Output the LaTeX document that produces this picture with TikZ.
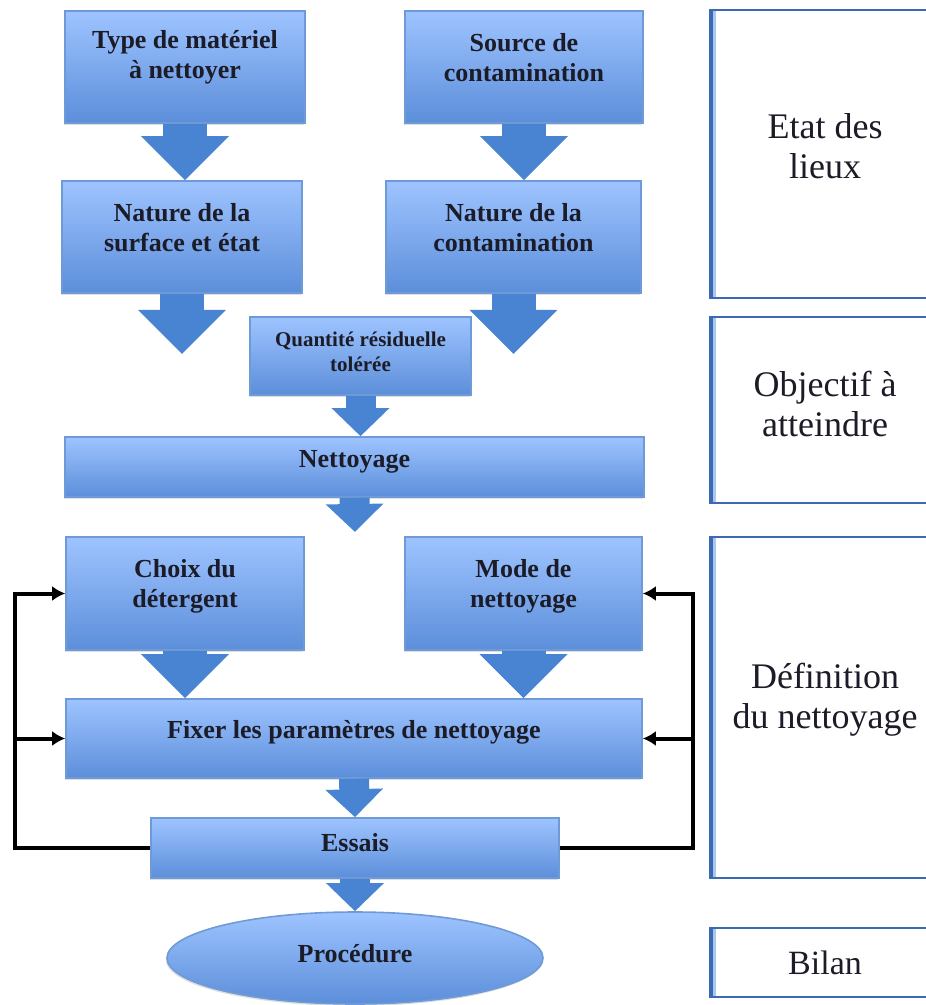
\documentclass[tikz,border=0pt]{standalone}
\usepackage{fontspec}
\setmainfont{Liberation Serif}
\usepackage{tikz}
\usetikzlibrary{arrows.meta, shapes.geometric, shadows}

\definecolor{boxtop}{RGB}{158,196,255}
\definecolor{boxbot}{RGB}{92,142,218}
\definecolor{boxline}{RGB}{110,155,215}
\definecolor{arrowblue}{RGB}{72,132,210}
\definecolor{phaseblue}{RGB}{60,105,180}
\definecolor{phaselight}{RGB}{170,198,235}
\definecolor{txt}{RGB}{28,28,40}

\begin{document}
\begin{tikzpicture}[x=0.5pt, y=-0.5pt,
  etape/.style={draw=boxline, line width=0.8pt, rectangle, top color=boxtop, bottom color=boxbot, align=center, text=txt, text depth=9.5pt, font=\bfseries\fontsize{13}{15}\selectfont, drop shadow={shadow xshift=-0.6pt, shadow yshift=-1pt, opacity=0.25}},
  phase/.style={draw=phaseblue, line width=1.4pt, rectangle, fill=white, align=center, text=txt, font=\fontsize{18}{20}\selectfont, minimum width=115pt,
    path picture={\fill[phaseblue] (path picture bounding box.north west) rectangle ([xshift=1.6pt]path picture bounding box.south west);
      \fill[phaselight] ([xshift=1.6pt]path picture bounding box.north west) rectangle ([xshift=3pt]path picture bounding box.south west);}},
  fleche/.style={arrowblue, line width=22pt, -{Triangle[width=42.5pt,length=22pt]}},
  petite/.style={arrowblue, line width=15pt, -{Triangle[width=28pt,length=14pt]}},
  retour/.style={line width=2pt, -{Latex[length=6.5pt,width=7.5pt]}}]
\useasboundingbox (0,0) rectangle (925,1005);

% colonne de gauche
\node (type) [etape, minimum width=120pt, minimum height=56pt, text depth=12.5pt] at (185,67) {Type de matériel\\à nettoyer};
\node (source) [etape, minimum width=119pt, minimum height=56pt] at (524,67) {Source de\\contamination};
\node (surface) [etape, minimum width=120pt, minimum height=56pt] at (182,237) {Nature de la\\surface et état};
\node (contam) [etape, minimum width=127.5pt, minimum height=56pt] at (513.5,237) {Nature de la\\contamination};
\node (quantite) [etape, minimum width=110.5pt, minimum height=39pt, text depth=4pt, font=\bfseries\fontsize{10.5}{12.5}\selectfont] at (360.5,356) {Quantité résiduelle\\tolérée};
\node (nettoyage) [etape, minimum width=289.5pt, minimum height=30pt, text depth=8pt] at (354.5,467) {Nettoyage};
\node (choix) [etape, minimum width=119pt, minimum height=56.5pt, text depth=10pt] at (185,593.5) {Choix du\\détergent};
\node (mode) [etape, minimum width=118.5pt, minimum height=56.5pt, text depth=10pt] at (523.5,593.5) {Mode de\\nettoyage};
\node (fixer) [etape, minimum width=288pt, minimum height=39.5pt, text depth=9pt] at (354,738.5) {Fixer les paramètres de nettoyage};
\node (essais) [etape, minimum width=204pt, minimum height=30pt, text depth=6pt] at (355,848) {Essais};
\node (procedure) [etape, ellipse, minimum width=188pt, minimum height=46pt, inner sep=0pt, text depth=5pt] at (355,958) {Procédure};

% colonne de droite
\node (etat) [phase, minimum height=144pt, text depth=8pt] at (825,154) {Etat des\\lieux};
\node (objectif) [phase, minimum height=93pt, text depth=6pt] at (825,410) {Objectif à\\atteindre};
\node (definition) [phase, minimum height=170.5pt, text depth=12pt] at (825,707.5) {Définition\\du nettoyage};
\node (bilan) [phase, minimum height=34.5pt, font=\fontsize{17}{19}\selectfont] at (825,962.5) {Bilan};

\coordinate (surfbout) at (182,354);
\coordinate (contbout) at (513.5,354);
\coordinate (netbout) at (355,532);
\coordinate (gauche) at (15,848);
\coordinate (droite) at (693,848);

\draw[fleche] (type.south) -- (type.south |- surface.north);
\draw[fleche] (source.south) -- (source.south |- contam.north);
\draw[fleche] (surface.south) -- (surfbout);
\draw[fleche] (contam.south) -- (contbout);
\draw[petite] (quantite.south) -- (quantite.south |- nettoyage.north);
\draw[petite] (nettoyage.south) -- (netbout);
\draw[fleche] (choix.south) -- (choix.south |- fixer.north);
\draw[fleche] (mode.south) -- (mode.south |- fixer.north);
\draw[petite] (fixer.south) -- (essais.north);
\draw[petite] (essais.south) -- (procedure.north);

\draw[retour] (essais.west) -- (gauche) |- (choix.west);
\draw[retour] (gauche |- fixer.west) -- (fixer.west);
\draw[retour] (essais.east) -- (droite) |- (mode.east);
\draw[retour] (droite |- fixer.east) -- (fixer.east);
\end{tikzpicture}
\end{document}
